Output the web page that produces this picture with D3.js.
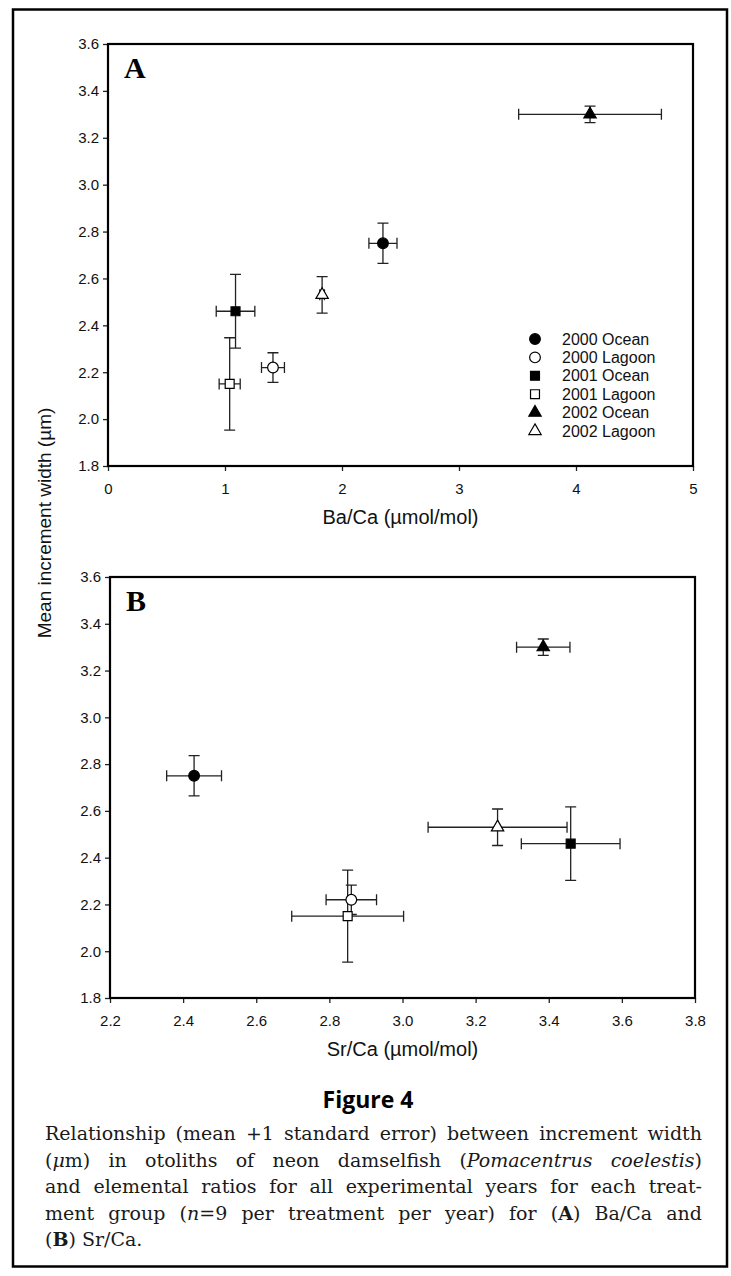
<!DOCTYPE html>
<html>
<head>
<meta charset="utf-8">
<script src="https://cdn.jsdelivr.net/npm/d3@7"></script>
<style>
  body { margin: 0; background: #fff; }
</style>
</head>
<body>
<svg id="fig" width="731" height="1276"></svg>
<script>
// groups, in legend order
const groups = ['2000 Ocean', '2000 Lagoon', '2001 Ocean', '2001 Lagoon', '2002 Ocean', '2002 Lagoon']
const shapes = ['circle', 'circle', 'square', 'square', 'triangle', 'triangle']
const filled = [true, false, true, false, true, false]

// mean increment width (um) and its standard error
const incWidth   = [2.75, 2.22, 2.46, 2.15, 3.30, 2.53]
const incWidthSE = [0.086, 0.063, 0.157, 0.197, 0.035, 0.078]

// Ba/Ca (umol/mol)
const baCa   = [2.35, 1.41, 1.09, 1.04, 4.12, 1.83]
const baCaSE = [0.12, 0.098, 0.165, 0.09, 0.61, 0.02]

// Sr/Ca (umol/mol)
const srCa   = [2.43, 2.86, 3.46, 2.85, 3.385, 3.26]
const srCaSE = [0.075, 0.069, 0.135, 0.153, 0.073, 0.19]

const yTicks  = [1.8, 2.0, 2.2, 2.4, 2.6, 2.8, 3.0, 3.2, 3.4, 3.6]
const baTicks = [0, 1, 2, 3, 4, 5]
const srTicks = [2.2, 2.4, 2.6, 2.8, 3.0, 3.2, 3.4, 3.6, 3.8]

const yTitle = 'Mean increment width (\u00b5m)'
const figTitle = 'Figure 4'
// caption: each line is a list of [text, style] pieces (i = italic, b = bold)
const captionLines = [
  [['Relationship (mean +1 standard error) between increment width', '']],
  [['(', ''], ['\u03bc', 'i'], ['m) in otoliths of neon damselfish (', ''], ['Pomacentrus coelestis', 'i'], [')', '']],
  [['and elemental ratios for all experimental years for each treat-', '']],
  [['ment group (', ''], ['n', 'i'], ['=9 per treatment per year) for (', ''], ['A', 'b'], [') Ba/Ca and', '']],
  [['(', ''], ['B', 'b'], [') Sr/Ca.', '']]
]

const svg = d3.select('#fig')
const sans = "'Liberation Sans', Arial, Helvetica, sans-serif"

// outer frame
svg.append('rect')
  .attr('x', 13).attr('y', 9.5)
  .attr('width', 714).attr('height', 1257)
  .attr('fill', 'none').attr('stroke', '#000').attr('stroke-width', 2.5)

const symbolType = {circle: d3.symbolCircle, square: d3.symbolSquare, triangle: d3.symbolTriangle}
const symbolSize = {circle: 90, square: 80, triangle: 66}

function drawPanel(cfg) {
  const x = d3.scaleLinear().domain(cfg.xDomain).range([cfg.left, cfg.right])
  const y = d3.scaleLinear().domain([1.8, 3.6]).range([cfg.bottom, cfg.top])
  const g = svg.append('g')

  // y axis
  const ya = g.append('g')
    .attr('transform', `translate(${cfg.left},0)`)
    .call(d3.axisLeft(y).tickValues(yTicks).tickFormat(d3.format('.1f'))
      .tickSize(5).tickSizeOuter(0).tickPadding(4))
  // x axis
  const xa = g.append('g')
    .attr('transform', `translate(0,${cfg.bottom})`)
    .call(d3.axisBottom(x).tickValues(cfg.ticks).tickFormat(cfg.fmt)
      .tickSize(5).tickSizeOuter(0).tickPadding(12))

  for (const a of [ya, xa]) {
    a.attr('font-family', null).attr('font-size', null)
    a.select('.domain').remove()
    a.selectAll('line').attr('stroke', '#222').attr('stroke-width', 1.3)
    a.selectAll('text').attr('fill', '#111').style('font-family', sans).style('font-size', '15px')
  }

  // plot frame
  g.append('rect')
    .attr('x', cfg.left).attr('y', cfg.top)
    .attr('width', cfg.right - cfg.left).attr('height', cfg.bottom - cfg.top)
    .attr('fill', 'none').attr('stroke', '#000').attr('stroke-width', 2.2)

  // panel letter
  g.append('text')
    .attr('x', cfg.left + 16).attr('y', cfg.top + 34)
    .style('font-family', "'Liberation Serif', 'Times New Roman', serif")
    .style('font-weight', 'bold').style('font-size', '30px')
    .text(cfg.letter)

  // x title
  g.append('text')
    .attr('x', (cfg.left + cfg.right) / 2).attr('y', cfg.bottom + 58)
    .attr('text-anchor', 'middle')
    .attr('fill', '#111')
    .style('font-family', sans).style('font-size', '20px')
    .text(cfg.xTitle)

  const idx = d3.range(groups.length)
  const bars = g.append('g').attr('stroke', '#222').attr('stroke-width', 1.3).attr('fill', 'none')
  const cap = 5.5

  idx.forEach(i => {
    const cx = x(cfg.xs[i]), cy = y(incWidth[i])
    const x0 = x(cfg.xs[i] - cfg.se[i]), x1 = x(cfg.xs[i] + cfg.se[i])
    const y0 = y(incWidth[i] - incWidthSE[i]), y1 = y(incWidth[i] + incWidthSE[i])
    // horizontal bar
    bars.append('path').attr('d', `M${x0},${cy}H${x1}M${x0},${cy - cap}V${cy + cap}M${x1},${cy - cap}V${cy + cap}`)
    // vertical bar
    bars.append('path').attr('d', `M${cx},${y0}V${y1}M${cx - cap},${y0}H${cx + cap}M${cx - cap},${y1}H${cx + cap}`)
  })

  g.append('g').selectAll('path')
    .data(idx)
    .join('path')
    .attr('transform', i => `translate(${x(cfg.xs[i])},${y(incWidth[i])})`)
    .attr('d', i => d3.symbol(symbolType[shapes[i]], symbolSize[shapes[i]])())
    .attr('fill', i => filled[i] ? '#000' : '#fff')
    .attr('stroke', '#000').attr('stroke-width', 1.2)

  return {x, y}
}

drawPanel({
  letter: 'A', left: 108, right: 693, top: 44, bottom: 466,
  xDomain: [0, 5], ticks: baTicks, fmt: d3.format('d'),
  xs: baCa, se: baCaSE, xTitle: 'Ba/Ca (\u00b5mol/mol)'
})
drawPanel({
  letter: 'B', left: 110, right: 695, top: 577, bottom: 998,
  xDomain: [2.2, 3.8], ticks: srTicks, fmt: d3.format('.1f'),
  xs: srCa, se: srCaSE, xTitle: 'Sr/Ca (\u00b5mol/mol)'
})

// legend inside panel A
const leg = svg.append('g').attr('transform', 'translate(535,339)')
groups.forEach((name, i) => {
  const row = leg.append('g').attr('transform', `translate(0,${i * 18.4})`)
  row.append('path')
    .attr('d', d3.symbol(symbolType[shapes[i]], symbolSize[shapes[i]])())
    .attr('fill', filled[i] ? '#000' : '#fff')
    .attr('stroke', '#000').attr('stroke-width', 1.2)
  row.append('text')
    .attr('x', 27).attr('dy', '0.35em')
    .attr('fill', '#111')
    .style('font-family', sans).style('font-size', '16px')
    .text(name)
})

// shared y title
svg.append('text')
  .attr('transform', 'translate(51,523) rotate(-90)')
  .attr('text-anchor', 'middle')
  .attr('fill', '#111')
  .style('font-family', sans).style('font-size', '19px')
  .text(yTitle)

// figure title
svg.append('text')
  .attr('x', 368).attr('y', 1108)
  .attr('text-anchor', 'middle')
  .style('font-family', "'Open Sans', 'DejaVu Sans', sans-serif")
  .style('font-weight', 'bold').style('font-size', '23px')
  .text(figTitle)

// caption, justified by word spacing
const capLeft = 45, capRight = 702, capTop = 1140, capStep = 26.5
captionLines.forEach((pieces, li) => {
  const t = svg.append('text')
    .attr('x', capLeft).attr('y', capTop + li * capStep)
    .attr('fill', '#1a1a1a')
    .style('font-family', "'DejaVu Serif', serif").style('font-size', '19px')
  pieces.forEach(([s, st]) => {
    const ts = t.append('tspan').text(s)
    if (st === 'i') ts.style('font-style', 'italic')
    if (st === 'b') ts.style('font-weight', 'bold')
  })
  if (li < captionLines.length - 1) {
    const len = t.node().getComputedTextLength()
    const spaces = pieces.map(p => p[0]).join('').split(' ').length - 1
    const ws = (capRight - capLeft - len) / spaces
    if (ws >= -2) t.attr('word-spacing', ws)
    else t.attr('textLength', capRight - capLeft).attr('lengthAdjust', 'spacingAndGlyphs')
  }
})
</script>
</body>
</html>
